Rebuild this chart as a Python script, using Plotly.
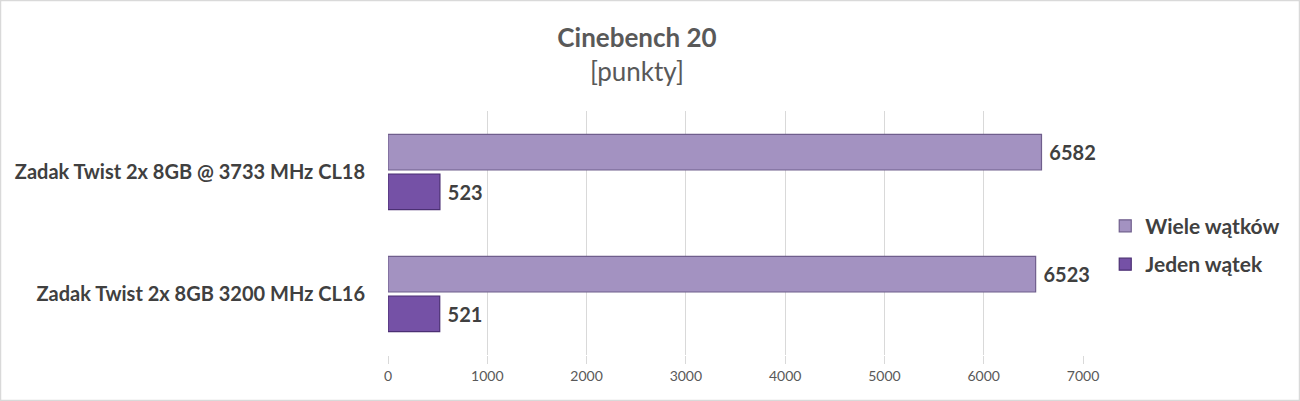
import plotly.graph_objects as go

categories = ["Zadak Twist 2x 8GB 3200 MHz CL16", "Zadak Twist 2x 8GB @ 3733 MHz CL18"]
wiele = [6523, 6582]
jeden = [521, 523]
tick_vals = [0, 1000, 2000, 3000, 4000, 5000, 6000, 7000]

FONT = "Lato, 'Open Sans', sans-serif"
TXT = "#404040"

fig = go.Figure()
fig.add_trace(go.Bar(
    y=categories, x=jeden, orientation="h", name="Jeden wątek",
    legendgroup="b", legendrank=2,
    marker=dict(color="#7551a6", line=dict(color="#4b2f73", width=1.2)),
    texttemplate=" %{x}", textposition="outside",
    textfont=dict(family=FONT, size=20, color=TXT, weight="bold"),
    cliponaxis=False,
))
fig.add_trace(go.Bar(
    y=categories, x=wiele, orientation="h", name="Wiele wątków",
    legendgroup="a", legendrank=1,
    marker=dict(color="#a392c1", line=dict(color="#6f5e8c", width=1.2)),
    texttemplate=" %{x}", textposition="outside",
    textfont=dict(family=FONT, size=20, color=TXT, weight="bold"),
    cliponaxis=False,
))

fig.update_layout(
    width=1300, height=401,
    paper_bgcolor="white", plot_bgcolor="white",
    margin=dict(l=388, r=217, t=111, b=46),
    barmode="group", bargap=0.35, bargroupgap=0.1,
    title=dict(
        text="<b>Cinebench 20</b><br><span style='font-weight:normal'>[punkty]</span>",
        x=0.49, xref="container", xanchor="center",
        y=1 - 47 / 401, yref="container", yanchor="top",
        font=dict(family=FONT, size=26, color="#595959"),
    ),
    xaxis=dict(
        range=[0, 7000], tickvals=tick_vals,
        showgrid=True, gridcolor="#d9d9d9", gridwidth=1,
        zeroline=False, showline=False,
        ticks="outside", ticklen=8, tickcolor="#d9d9d9",
        tickfont=dict(family=FONT, size=14, color="#595959"),
    ),
    yaxis=dict(
        showgrid=False, zeroline=False, showline=False, ticks="",
        ticklabelstandoff=22,
        tickfont=dict(family=FONT, size=20, color=TXT, weight="bold"),
    ),
    legend=dict(
        x=1.032, xanchor="left", y=0.45, yanchor="middle",
        font=dict(family=FONT, size=21, color=TXT, weight="bold"),
        tracegroupgap=8, itemwidth=30,
        bgcolor="rgba(0,0,0,0)",
    ),
    showlegend=True,
    shapes=[dict(type="rect", xref="paper", yref="paper",
                 x0=-387.5 / 695, x1=1 + 216.5 / 695, y0=-45.5 / 244, y1=1 + 110.5 / 244,
                 line=dict(color="#d9d9d9", width=1.5), fillcolor="rgba(0,0,0,0)")],
)

fig.write_html("out.html", config={"displayModeBar": False},
               post_script="document.body.style.margin='0';")
